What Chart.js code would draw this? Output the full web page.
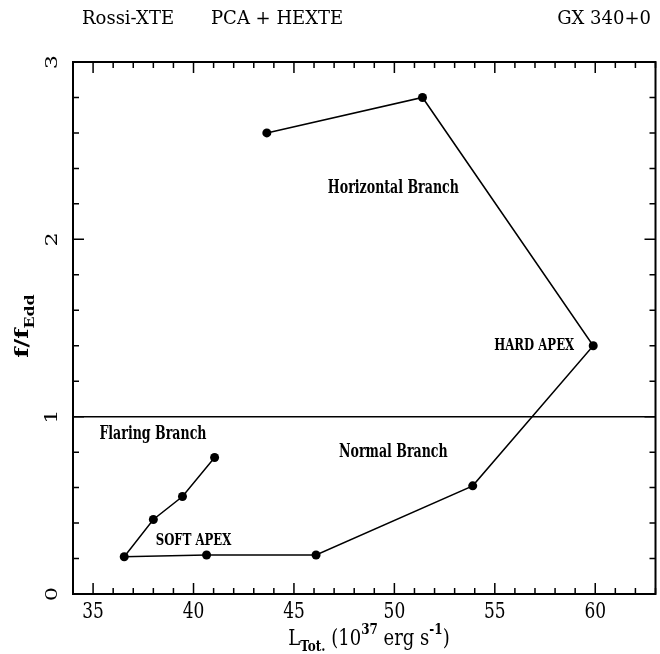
<!DOCTYPE html>
<html>
<head>
<meta charset="utf-8">
<script src="https://cdn.jsdelivr.net/npm/chart.js@4.4.0/dist/chart.umd.min.js"></script>
<style>
  html, body { margin: 0; padding: 0; background: #fff; }
</style>
</head>
<body>
<canvas id="zChart" width="660" height="654"></canvas>
<script>
// GX 340+0 track through the Z diagram (horizontal -> normal -> flaring branch)
const luminosity = [43.65, 51.4, 59.9, 53.9, 46.1, 40.65, 36.55, 38.0, 39.45, 41.05];
const freqRatio  = [2.60, 2.80, 1.40, 0.61, 0.22, 0.22, 0.21, 0.42, 0.55, 0.77];

const xTicks = [35, 40, 45, 50, 55, 60];
const yTicks = [0, 1, 2, 3];
const eddLevel = 1;

const branchNames = ['Horizontal Branch', 'HARD APEX', 'Normal Branch', 'Flaring Branch', 'SOFT APEX'];

const SERIF = "'DejaVu Serif', serif";
const SERIF_NARROW = "'DejaVu Serif Condensed', 'DejaVu Serif', serif";
const STRETCH = 1.32;   // glyphs are drawn taller than wide

// where each branch name sits, in data units
const notePlace = [
    { x: 49.95, y: 2.29, align: 'center', size: 14 },
    { x: 58.95, y: 1.40, align: 'right',  size: 13 },
    { x: 49.95, y: 0.80, align: 'center', size: 14 },
    { x: 37.98, y: 0.90, align: 'center', size: 14 },
    { x: 40.0,  y: 0.30, align: 'center', size: 13 }
];

// single label, optionally turned to read upwards, stretched along its height
function putText(ctx, text, x, y, font, align, upright) {
    ctx.save();
    ctx.translate(x, y);
    if (upright) {
        ctx.rotate(-Math.PI / 2);
        ctx.scale(STRETCH, 1);
    } else {
        ctx.scale(1, STRETCH);
    }
    ctx.font = font;
    ctx.textAlign = align;
    ctx.textBaseline = 'middle';
    ctx.fillText(text, 0, 0);
    ctx.restore();
}

// run of text pieces with sub/superscripts, centred on cx, baseline at 0
function drawRich(ctx, parts, cx) {
    let total = 0;
    parts.forEach(p => {
        ctx.font = p.weight + ' ' + p.size + 'px ' + SERIF;
        p.w = ctx.measureText(p.t).width;
        total += p.w;
    });
    let x = cx - total / 2;
    ctx.textAlign = 'left';
    ctx.textBaseline = 'alphabetic';
    parts.forEach(p => {
        ctx.font = p.weight + ' ' + p.size + 'px ' + SERIF;
        ctx.fillText(p.t, x, p.dy);
        x += p.w;
    });
}

const framePlugin = {
    id: 'frame',
    afterDraw(chart) {
        const { ctx, chartArea: a, scales: { x, y } } = chart;
        ctx.save();
        ctx.strokeStyle = '#000';
        ctx.fillStyle = '#000';

        // inward ticks on all four sides
        ctx.lineWidth = 1.5;
        ctx.beginPath();
        for (let v = Math.ceil(x.min); v <= x.max; v++) {
            const px = x.getPixelForValue(v);
            const len = v % 5 === 0 ? 11 : 6;
            ctx.moveTo(px, a.bottom); ctx.lineTo(px, a.bottom - len);
            ctx.moveTo(px, a.top); ctx.lineTo(px, a.top + len);
        }
        for (let i = 0; i <= 15; i++) {
            const py = y.getPixelForValue(i * 0.2);
            const len = i % 5 === 0 ? 11 : 6;
            ctx.moveTo(a.left, py); ctx.lineTo(a.left + len, py);
            ctx.moveTo(a.right, py); ctx.lineTo(a.right - len, py);
        }
        ctx.stroke();

        ctx.lineWidth = 2;
        ctx.strokeRect(a.left, a.top, a.right - a.left, a.bottom - a.top);

        // tick numbers, placed by the scales
        x.ticks.forEach(t => {
            putText(ctx, String(t.value), x.getPixelForValue(t.value), a.bottom + 18,
                '17px ' + SERIF, 'center', false);
        });
        y.ticks.forEach(t => {
            putText(ctx, String(t.value), a.left - 20, y.getPixelForValue(t.value),
                '17px ' + SERIF, 'center', true);
        });

        // branch names
        branchNames.forEach((name, i) => {
            const n = notePlace[i];
            putText(ctx, name, x.getPixelForValue(n.x), y.getPixelForValue(n.y),
                'bold ' + n.size + 'px ' + SERIF_NARROW, n.align, false);
        });

        // header
        ctx.font = '18px ' + SERIF;
        ctx.textBaseline = 'middle';
        ctx.textAlign = 'left';
        ctx.fillText('Rossi-XTE', 82, 19);
        ctx.fillText('PCA + HEXTE', 211, 19);
        ctx.textAlign = 'right';
        ctx.fillText('GX 340+0', 651, 19);

        // x axis title
        ctx.save();
        ctx.translate(0, 645);
        ctx.scale(1, STRETCH * 0.9);
        drawRich(ctx, [
            { t: 'L', size: 18, dy: 0, weight: 'normal' },
            { t: 'Tot.', size: 12, dy: 5, weight: 'bold' },
            { t: ' (10', size: 18, dy: 0, weight: 'normal' },
            { t: '37', size: 12, dy: -9, weight: 'bold' },
            { t: ' erg s', size: 18, dy: 0, weight: 'normal' },
            { t: '-1', size: 12, dy: -9, weight: 'bold' },
            { t: ')', size: 18, dy: 0, weight: 'normal' }
        ], 369);
        ctx.restore();

        // y axis title, reading upwards
        ctx.translate(28, 326);
        ctx.rotate(-Math.PI / 2);
        ctx.scale(STRETCH, 1);
        drawRich(ctx, [
            { t: 'f/f', size: 18, dy: 0, weight: 'bold' },
            { t: 'Edd', size: 12, dy: 6, weight: 'bold' }
        ], 0);
        ctx.restore();
    }
};

new Chart(document.getElementById('zChart'), {
    type: 'scatter',
    data: {
        datasets: [{
            data: luminosity.map((v, i) => ({ x: v, y: freqRatio[i] })),
            showLine: true,
            borderColor: '#000',
            borderWidth: 1.5,
            backgroundColor: '#000',
            pointRadius: 4.5,
            pointBorderWidth: 0,
            tension: 0
        }]
    },
    options: {
        responsive: false,
        animation: false,
        devicePixelRatio: 1,
        layout: { padding: { top: 62, right: 3, left: 0, bottom: 0 } },
        plugins: {
            legend: { display: false },
            tooltip: { enabled: false }
        },
        scales: {
            x: {
                type: 'linear',
                min: 34,
                max: 63,
                afterBuildTicks: s => { s.ticks = xTicks.map(v => ({ value: v })); },
                afterFit: s => { s.height = 60; },
                grid: { display: false },
                border: { display: false },
                ticks: { display: false }
            },
            y: {
                type: 'linear',
                min: 0,
                max: 3,
                afterBuildTicks: s => { s.ticks = yTicks.map(v => ({ value: v })); },
                afterFit: s => { s.width = 73; },
                grid: {
                    drawTicks: false,
                    lineWidth: 1.5,
                    color: c => (c.tick && c.tick.value === eddLevel) ? '#000' : 'rgba(0,0,0,0)'
                },
                border: { display: false },
                ticks: { display: false }
            }
        }
    },
    plugins: [framePlugin]
});
</script>
</body>
</html>
